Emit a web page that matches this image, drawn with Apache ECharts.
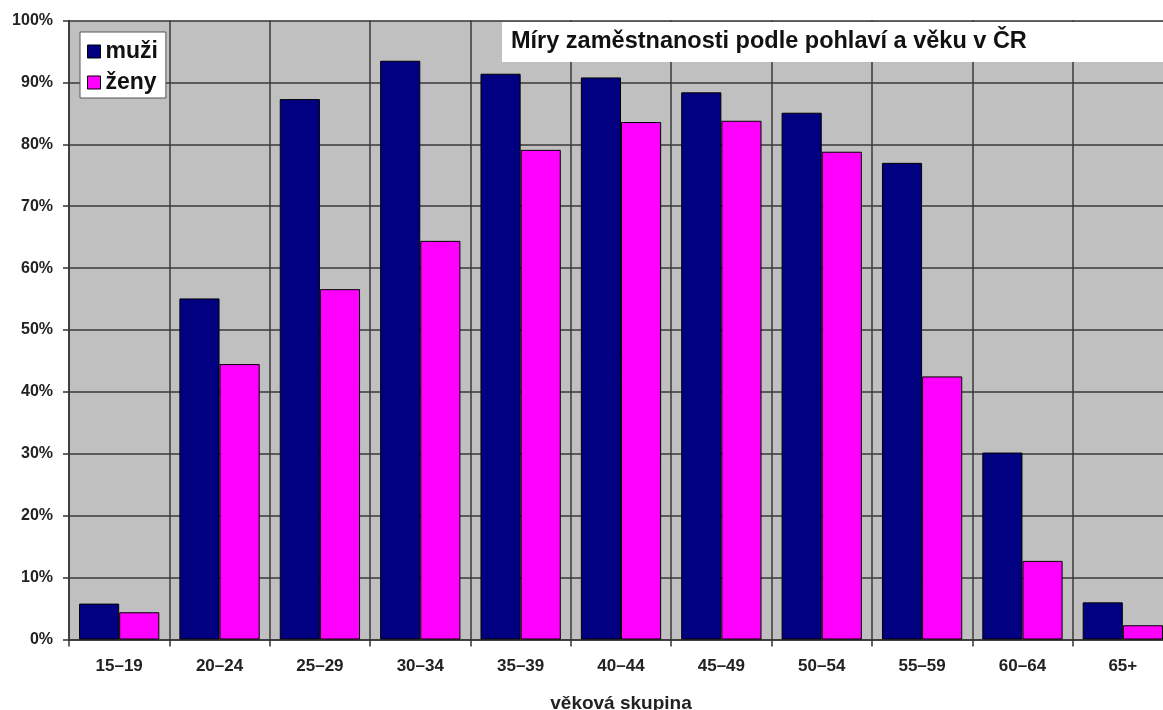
<!DOCTYPE html>
<html>
<head>
<meta charset="utf-8">
<script src="https://cdn.jsdelivr.net/npm/echarts@6/dist/echarts.min.js"></script>
<style>
html,body{margin:0;padding:0;background:#fff;}
#c{width:1163px;height:710px;}
</style>
</head>
<body>
<div id="c"></div>
<script>
const categories = ['15–19','20–24','25–29','30–34','35–39','40–44','45–49','50–54','55–59','60–64','65+'];
const muzi = [5.8, 55.1, 87.3, 93.5, 91.4, 90.8, 88.4, 85.1, 77.0, 30.2, 6.0];
const zeny = [4.4, 44.5, 56.6, 64.4, 79.1, 83.6, 83.8, 78.8, 42.5, 12.7, 2.3];
const seriesNames = ['muži', 'ženy'];
const titleText = 'Míry zaměstnanosti podle pohlaví a věku v ČR';
const xName = 'věková skupina';

const FONT = 'Arial, "Liberation Sans", sans-serif';
const chart = echarts.init(document.getElementById('c'), null, {renderer: 'canvas'});
chart.setOption({
  animation: false,
  backgroundColor: '#ffffff',
  title: {
    text: titleText,
    left: 502, top: 22,
    backgroundColor: '#ffffff',
    padding: [8, 200, 8, 9],
    textStyle: {fontFamily: FONT, fontSize: 23.5, fontWeight: 'bold', color: '#111'}
  },
  legend: {
    orient: 'vertical',
    left: 80, top: 32,
    backgroundColor: '#ffffff',
    borderColor: '#555', borderWidth: 1,
    padding: [8, 8, 4, 7],
    itemGap: 8,
    itemWidth: 13, itemHeight: 13,
    icon: 'rect',
    itemStyle: {borderColor: '#000', borderWidth: 1},
    textStyle: {fontFamily: FONT, fontSize: 23, fontWeight: 'bold', color: '#111'},
    data: seriesNames
  },
  grid: {
    left: 69, top: 20.5, width: 1104, height: 619,
    outerBoundsMode: 'none',
    containLabel: false,
    show: true, backgroundColor: '#C0C0C0', borderWidth: 0
  },
  xAxis: {
    type: 'category',
    data: categories,
    name: xName,
    nameLocation: 'middle',
    nameGap: 55,
    nameTextStyle: {fontFamily: FONT, fontSize: 19, fontWeight: 'bold', color: '#222'},
    axisLine: {show: true, lineStyle: {color: '#333', width: 1.5}},
    axisTick: {show: true, alignWithLabel: false, length: 7, lineStyle: {color: '#333', width: 1.5}},
    splitLine: {show: true, lineStyle: {color: '#3a3a3a', width: 1.5}},
    axisLabel: {fontFamily: FONT, fontSize: 17, fontWeight: 'bold', color: '#222', margin: 18}
  },
  yAxis: {
    type: 'value',
    min: 0, max: 100, interval: 10,
    axisLine: {show: true, lineStyle: {color: '#333', width: 1.5}},
    axisTick: {show: true, length: 6, lineStyle: {color: '#333', width: 1.5}},
    splitLine: {show: true, lineStyle: {color: '#3a3a3a', width: 1.5}},
    axisLabel: {formatter: '{value}%', fontFamily: FONT, fontSize: 16, fontWeight: 'bold', color: '#222', margin: 16}
  },
  series: [
    {
      name: seriesNames[0], type: 'bar', data: muzi,
      barGap: '0%', barCategoryGap: '20%',
      itemStyle: {color: '#000080', borderColor: '#000', borderWidth: 1}
    },
    {
      name: seriesNames[1], type: 'bar', data: zeny,
      barGap: '0%', barCategoryGap: '20%',
      itemStyle: {color: '#FF00FF', borderColor: '#000', borderWidth: 1}
    }
  ]
});
</script>
</body>
</html>
